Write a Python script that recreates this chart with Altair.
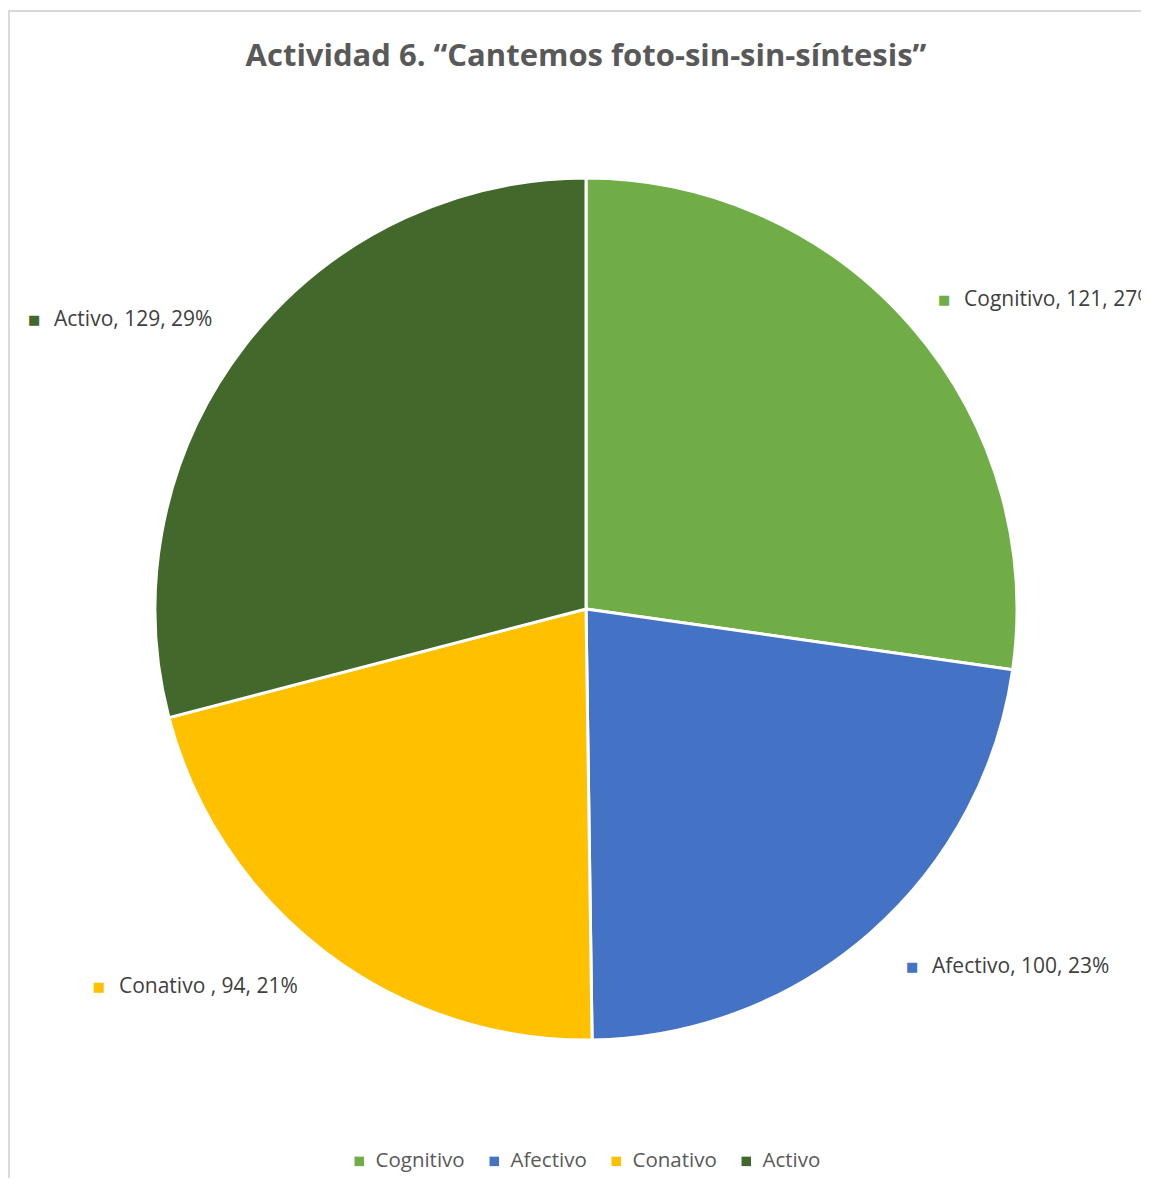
import altair as alt
import pandas as pd

categories = ["Cognitivo", "Afectivo", "Conativo", "Activo"]
values = [121, 100, 94, 129]
label_texts = ["Cognitivo, 121, 27%", "Afectivo, 100, 23%", "Conativo , 94, 21%", "Activo, 129, 29%"]
colors = ["#70AD47", "#4472C4", "#FFC000", "#43682B"]
title_text = "Actividad 6. \u201cCantemos foto-sin-sin-s\u00edntesis\u201d"

df = pd.DataFrame({
    "cat": categories,
    "value": values,
    "label": label_texts,
    "order": list(range(len(categories))),
})

W, H = 1133, 1170
CX, CY = 578, 601
R = 431
LR = 480
FONT = "Open Sans"

color_scale = alt.Scale(domain=categories, range=colors)

pie = alt.Chart(df).mark_arc(outerRadius=R, stroke="white", strokeWidth=3).encode(
    theta=alt.Theta("value:Q", stack=True),
    order=alt.Order("order:Q"),
    color=alt.Color(
        "cat:N", scale=color_scale, sort=categories, title=None,
        legend=alt.Legend(
            orient="none", direction="horizontal", legendX=341, legendY=1143,
            symbolType="square", symbolSize=90, symbolStrokeWidth=0,
            labelFont=FONT, labelFontSize=20.5, labelColor="#595959",
            columnPadding=19, labelOffset=6,
        ),
    ),
    x=alt.value(CX), y=alt.value(CY),
)

# stacked mid-angle computed before any filtering
lab_base = alt.Chart(df).transform_window(
    cum="sum(value)", sort=[alt.SortField("order")], frame=[None, 0]
).transform_joinaggregate(
    total="sum(value)"
).transform_calculate(
    mid="(datum.cum - datum.value / 2) / datum.total"
).encode(
    theta=alt.Theta("mid:Q", scale=alt.Scale(domain=[0, 1], range=[0, 6.283185307179586]), stack=None),
    radius=alt.value(LR), x=alt.value(CX), y=alt.value(CY),
)

# label offsets (dx, dy) from anchor at mid-angle radius LR
offsets = {
    "Cognitivo": (-4.5, 5.6),
    "Afectivo": (8.9, -2.4),
    "Conativo": (-196.2, -3.8),
    "Activo": (-172.2, 4.6),
}

label_layers = []
for c in categories:
    dx, dy = offsets[c]
    sel = lab_base.transform_filter(alt.datum.cat == c)
    sq = sel.mark_text(
        text="\u25a0", fontSize=13, dx=dx, dy=dy, align="center", baseline="middle", font="DejaVu Sans"
    ).encode(
        color=alt.Color("cat:N", scale=color_scale, legend=None),
    )
    tx = sel.mark_text(
        fontSize=21, dx=dx + 20, dy=dy, align="left", baseline="middle", font=FONT, color="#404040"
    ).encode(
        text="label:N",
    )
    label_layers += [sq, tx]

labels = alt.layer(*label_layers)

border_left = alt.Chart(df).mark_rule(color="#D9D9D9", strokeWidth=1.5).encode(
    x=alt.value(1), y=alt.value(3), y2=alt.value(H)
)
border_top = alt.Chart(df).mark_rule(color="#D9D9D9", strokeWidth=1.5).encode(
    x=alt.value(0), x2=alt.value(W), y=alt.value(3)
)

title = alt.Chart(pd.DataFrame({"t": [title_text]})).mark_text(
    font=FONT, fontSize=31, fontWeight="bold", color="#595959", align="center", baseline="alphabetic"
).encode(text="t:N", x=alt.value(CX), y=alt.value(58))

chart = alt.layer(border_left, border_top, pie, labels, title).resolve_scale(
    theta="independent"
).properties(
    width=W, height=H, padding=0, background="white",
    autosize=alt.AutoSizeParams(type="none"),
).configure_view(stroke="transparent", strokeWidth=0)

chart.save("out.html", embed_options={"renderer": "svg", "actions": False})
